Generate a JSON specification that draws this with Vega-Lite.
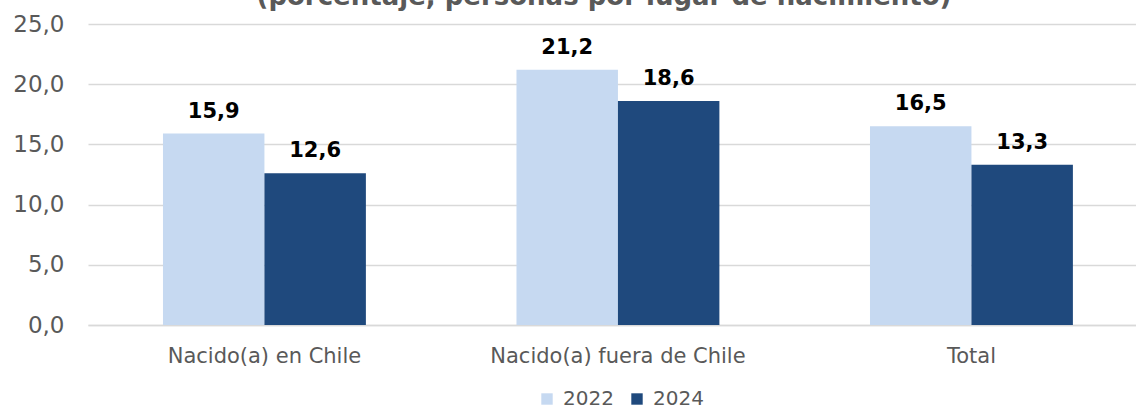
{
  "$schema": "https://vega.github.io/schema/vega-lite/v6.json",
  "autosize": {"type": "none"},
  "padding": {"left": 88, "top": 24, "right": 0, "bottom": 84},
  "width": 1048,
  "height": 301,
  "title": {
    "text": "(porcentaje, personas por lugar de nacimiento)",
    "font": "DejaVu Sans",
    "fontSize": 26,
    "fontWeight": "bold",
    "color": "#595959",
    "anchor": "middle",
    "frame": "group",
    "baseline": "alphabetic",
    "offset": 0,
    "dy": 18,
    "dx": -8
  },
  "data": {
    "values": [
      {"categoria": "Nacido(a) en Chile", "anio": "2022", "valor": 15.9},
      {"categoria": "Nacido(a) en Chile", "anio": "2024", "valor": 12.6},
      {"categoria": "Nacido(a) fuera de Chile", "anio": "2022", "valor": 21.2},
      {"categoria": "Nacido(a) fuera de Chile", "anio": "2024", "valor": 18.6},
      {"categoria": "Total", "anio": "2022", "valor": 16.5},
      {"categoria": "Total", "anio": "2024", "valor": 13.3}
    ]
  },
  "encoding": {
    "x": {
      "field": "categoria",
      "type": "nominal",
      "sort": ["Nacido(a) en Chile", "Nacido(a) fuera de Chile", "Total"],
      "scale": {"paddingInner": 0.426, "paddingOuter": 0.1953, "align": 0.543},
      "axis": {
        "title": null,
        "labelAngle": 0,
        "labelLimit": 0,
        "ticks": false,
        "labelPadding": 20,
        "labelFont": "DejaVu Sans",
        "labelFontSize": 21,
        "labelColor": "#595959",
        "domainColor": "#d9d9d9",
        "domainWidth": 1.5
      }
    },
    "xOffset": {
      "field": "anio",
      "type": "nominal",
      "scale": {"paddingInner": 0, "paddingOuter": 0}
    },
    "y": {
      "field": "valor",
      "type": "quantitative",
      "scale": {"domain": [0, 25], "nice": false},
      "axis": {
        "title": null,
        "values": [0, 5, 10, 15, 20, 25],
        "format": ".1f",
        "domain": false,
        "ticks": false,
        "labelPadding": 24,
        "labelFont": "DejaVu Sans",
        "labelFontSize": 23,
        "labelColor": "#595959",
        "gridColor": "#d9d9d9",
        "gridWidth": 1.5
      }
    }
  },
  "layer": [
    {
      "mark": {"type": "bar"},
      "encoding": {
        "color": {
          "field": "anio",
          "type": "nominal",
          "scale": {"domain": ["2022", "2024"], "range": ["#C6D9F1", "#1F497D"]},
          "legend": {
            "title": null,
            "orient": "none",
            "legendX": 449,
            "legendY": 365,
            "padding": 0,
            "direction": "horizontal",
            "symbolType": "square",
            "symbolSize": 130,
            "symbolStrokeWidth": 0,
            "labelFont": "DejaVu Sans",
            "labelFontSize": 20,
            "labelColor": "#595959",
            "labelOffset": 6,
            "columnPadding": 13
          }
        }
      }
    },
    {
      "mark": {
        "type": "text",
        "dy": -16,
        "baseline": "alphabetic",
        "font": "DejaVu Sans",
        "fontSize": 21,
        "fontWeight": "bold",
        "color": "#000000"
      },
      "encoding": {
        "text": {"field": "valor", "type": "quantitative", "format": ".1f"}
      }
    }
  ],
  "config": {
    "locale": {
      "number": {"decimal": ",", "thousands": ".", "grouping": [3], "currency": ["", ""]}
    },
    "view": {"stroke": null},
    "background": "#ffffff"
  }
}
